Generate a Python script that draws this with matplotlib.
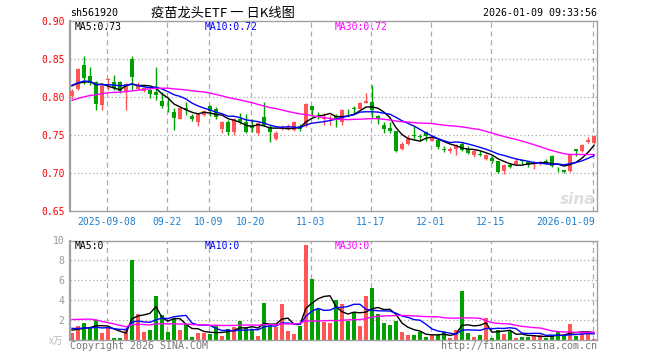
import numpy as np
import pandas as pd
import matplotlib
matplotlib.use('Agg')
import matplotlib.pyplot as plt

plt.rcParams['font.family'] = ['DejaVu Sans Mono', 'Noto Sans CJK SC']

code = 'sh561920'
title = '疫苗龙头ETF 一 日K线图'
stamp = '2026-01-09 09:33:56'

# daily candles 2025-08-29 .. 2026-01-09
opens = [0.8009, 0.8110, 0.8425, 0.8280, 0.8193, 0.7890, 0.8225, 0.8202, 0.8193, 0.8066,
         0.8504, 0.8100, 0.8075, 0.8088, 0.8070, 0.7952, 0.7882, 0.7807, 0.7715, 0.7860,
         0.7754, 0.7675, 0.7768, 0.7882, 0.7846, 0.7583, 0.7675, 0.7539, 0.7715, 0.7675,
         0.7632, 0.7522, 0.7732, 0.7610, 0.7452, 0.7575, 0.7592, 0.7561, 0.7623, 0.7614,
         0.7886, 0.7768, 0.7715, 0.7680, 0.7754, 0.7671, 0.7803, 0.7846, 0.7846, 0.7925,
         0.7934, 0.7746, 0.7636, 0.7597, 0.7548, 0.7320, 0.7386, 0.7496, 0.7487, 0.7540,
         0.7425, 0.7439, 0.7316, 0.7285, 0.7320, 0.7382, 0.7316, 0.7241, 0.7241, 0.7184,
         0.7197, 0.7153, 0.7031, 0.7110, 0.7118, 0.7162, 0.7145, 0.7118, 0.7132, 0.7149,
         0.7224, 0.7066, 0.7044, 0.7022, 0.7320, 0.7294, 0.7404, 0.7395]
highs = [0.8100, 0.8385, 0.8544, 0.8390, 0.8206, 0.8160, 0.8250, 0.8290, 0.8206, 0.8180,
         0.8544, 0.8202, 0.8127, 0.8100, 0.8390, 0.8066, 0.7987, 0.7855, 0.7870, 0.7934,
         0.7780, 0.7794, 0.7829, 0.7895, 0.7873, 0.7689, 0.7697, 0.7728, 0.7794, 0.7772,
         0.7715, 0.7671, 0.7934, 0.7636, 0.7548, 0.7636, 0.7649, 0.7689, 0.7649, 0.7917,
         0.7886, 0.7803, 0.7790, 0.7760, 0.7776, 0.7846, 0.7842, 0.7886, 0.7930, 0.8053,
         0.8162, 0.7768, 0.7671, 0.7671, 0.7557, 0.7408, 0.7504, 0.7614, 0.7518, 0.7548,
         0.7482, 0.7452, 0.7351, 0.7338, 0.7382, 0.7408, 0.7351, 0.7320, 0.7294, 0.7250,
         0.7219, 0.7158, 0.7118, 0.7132, 0.7197, 0.7171, 0.7162, 0.7154, 0.7162, 0.7184,
         0.7237, 0.7075, 0.7044, 0.7250, 0.7320, 0.7386, 0.7469, 0.7504]
lows = [0.7980, 0.8096, 0.8170, 0.8160, 0.7833, 0.7833, 0.8096, 0.8096, 0.8050, 0.7825,
        0.8088, 0.8100, 0.8070, 0.7987, 0.7965, 0.7855, 0.7798, 0.7561, 0.7715, 0.7759,
        0.7689, 0.7614, 0.7755, 0.7746, 0.7715, 0.7526, 0.7504, 0.7496, 0.7645, 0.7526,
        0.7539, 0.7504, 0.7614, 0.7404, 0.7439, 0.7566, 0.7566, 0.7557, 0.7557, 0.7601,
        0.7754, 0.7715, 0.7636, 0.7636, 0.7601, 0.7636, 0.7746, 0.7776, 0.7833, 0.7917,
        0.7724, 0.7645, 0.7526, 0.7526, 0.7272, 0.7307, 0.7373, 0.7452, 0.7417, 0.7417,
        0.7417, 0.7320, 0.7276, 0.7263, 0.7241, 0.7294, 0.7254, 0.7206, 0.7224, 0.7171,
        0.7132, 0.7000, 0.6991, 0.7066, 0.7101, 0.7118, 0.7083, 0.7057, 0.7110, 0.7118,
        0.7083, 0.7013, 0.6996, 0.7009, 0.7219, 0.7276, 0.7395, 0.7382]
closes = [0.8083, 0.8373, 0.8250, 0.8184, 0.7912, 0.8140, 0.8233, 0.8118, 0.8075, 0.8171,
          0.8259, 0.8140, 0.8118, 0.8044, 0.8022, 0.7877, 0.7877, 0.7719, 0.7855, 0.7829,
          0.7715, 0.7772, 0.7820, 0.7811, 0.7732, 0.7675, 0.7539, 0.7715, 0.7675, 0.7539,
          0.7596, 0.7658, 0.7632, 0.7535, 0.7531, 0.7601, 0.7610, 0.7671, 0.7575, 0.7908,
          0.7833, 0.7759, 0.7732, 0.7689, 0.7702, 0.7829, 0.7798, 0.7842, 0.7921, 0.7952,
          0.7833, 0.7715, 0.7583, 0.7557, 0.7294, 0.7382, 0.7452, 0.7491, 0.7478, 0.7482,
          0.7461, 0.7338, 0.7307, 0.7320, 0.7373, 0.7307, 0.7263, 0.7285, 0.7237, 0.7241,
          0.7162, 0.7013, 0.7110, 0.7079, 0.7153, 0.7158, 0.7101, 0.7132, 0.7145, 0.7145,
          0.7097, 0.7061, 0.7009, 0.7241, 0.7294, 0.7373, 0.7434, 0.7482]
# volume, 万
volumes = [0.67, 1.4, 1.73, 1.33, 2.0, 0.73, 1.23, 0.23, 0.23, 1.0,
           8.0, 2.6, 0.8, 1.0, 4.4, 2.47, 0.8, 2.07, 1.0, 1.6,
           0.3, 0.7, 0.7, 0.6, 1.4, 0.4, 1.13, 1.3, 1.9, 1.3,
           1.07, 0.4, 3.7, 1.5, 1.3, 3.6, 0.9, 0.6, 1.4, 9.5,
           6.1, 3.1, 1.8, 1.73, 4.0, 3.6, 1.93, 2.73, 1.4, 4.4,
           5.2, 2.6, 1.7, 1.5, 1.9, 0.8, 0.5, 0.5, 0.8, 0.3,
           0.5, 0.5, 0.8, 0.2, 1.0, 4.9, 0.7, 0.3, 0.5, 2.2,
           0.2, 1.0, 0.6, 0.9, 0.2, 0.3, 0.3, 0.5, 0.5, 0.2,
           0.4, 0.8, 0.5, 1.6, 0.4, 0.8, 0.8, 0.1]

# sessions before the first visible bar, only used to seed the moving averages
prev_closes = [0.760, 0.762, 0.765, 0.766, 0.767,
               0.790, 0.795, 0.798, 0.797, 0.798,
               0.785, 0.782, 0.780, 0.784, 0.783, 0.786,
               0.800, 0.803, 0.805, 0.806, 0.804, 0.802,
               0.825, 0.828, 0.822, 0.820, 0.818, 0.815, 0.812]
prev_volumes = [1.2, 1.0, 1.3,
                4.2, 5.5, 4.8, 3.9, 5.0, 4.8,
                1.5, 1.8, 1.6, 2.0, 1.4, 1.7, 1.9, 1.6, 1.5, 1.8, 1.7,
                1.5, 1.2, 1.3, 1.4, 1.3, 1.0, 1.2, 1.0, 1.1]

date_pos = [6, 16, 23, 30, 40, 50, 60, 70, 87]
date_labels = ['2025-09-08', '09-22', '10-09', '10-20', '11-03', '11-17', '12-01', '12-15', '2026-01-09']
price_ticks = [0.65, 0.70, 0.75, 0.80, 0.85, 0.90]
vol_ticks = [2, 4, 6, 8, 10]
ma_names = ['MA5', 'MA10', 'MA30']
ma_days = [5, 10, 30]
ma_colors = ['black', '#0000ff', '#ff00ff']
price_ma_text = ['0.73', '0.72', '0.72']
vol_ma_text = ['0', '0', '0']

RED = '#ff5555'
GREEN = '#00a000'
GRID = '#aaaaaa'
W, H = 660, 360


def box(l, t, r, b):
    return [l / W, 1 - b / H, (r - l) / W, (b - t) / H]


def fig_xy(x, y):
    return x / W, 1 - y / H


o = np.array(opens)
h = np.array(highs)
l = np.array(lows)
c = np.array(closes)
v = np.array(volumes)
n = len(c)
x = np.arange(n)
cols = np.where(c >= o, RED, GREEN)

fig = plt.figure(figsize=(6.6, 3.6), dpi=100)
ax = fig.add_axes(box(70, 21, 597, 211))
axv = fig.add_axes(box(70, 240.5, 597, 340))

for a in (ax, axv):
    a.set_xlim(-0.33, n - 0.5)
    for s in a.spines.values():
        s.set_color('#a0a0a0')
        s.set_linewidth(1)
    a.spines['left'].set_linewidth(1.6)
    a.set_xticks([])
    a.tick_params(axis='y', length=0, pad=4, labelsize=7)
    for p in date_pos:
        a.axvline(p - 0.22, color=GRID, lw=0.9, dashes=(4, 3), zorder=0)

# price panel
ax.vlines(x, l, h, colors=cols, lw=1, zorder=2)
ax.bar(x, np.maximum(np.abs(c - o), 0.0007), bottom=np.minimum(o, c), width=0.75,
       color=cols, lw=0, zorder=3)
s = pd.Series(prev_closes + closes)
for d, col in zip(ma_days, ma_colors):
    ma = s.rolling(d).mean().iloc[len(prev_closes):].values
    ax.plot(x, ma, color=col, lw=1, zorder=4)
ax.set_ylim(0.65, 0.90)
ax.set_yticks(price_ticks)
ax.set_yticklabels(['%.2f' % t for t in price_ticks], color='#ff0000')
for t in price_ticks[1:-1]:
    ax.axhline(t, color=GRID, lw=0.9, dashes=(1, 2), zorder=0)
for p, lab in zip(date_pos, date_labels):
    ha = 'right' if p == date_pos[-1] else 'center'
    xp = p + 0.1 if ha == 'right' else p - 0.2
    ax.text(xp, -0.058, lab, transform=ax.get_xaxis_transform(), ha=ha, va='center',
            fontsize=7, color='#1a7fd0')

# volume panel
axv.bar(x, v, width=0.8, color=cols, lw=0, zorder=2)
sv = pd.Series(prev_volumes + volumes)
for d, col in zip(ma_days, ma_colors):
    ma = sv.rolling(d).mean().iloc[len(prev_volumes):].values
    axv.plot(x, ma, color=col, lw=1, zorder=4)
axv.set_ylim(0, 10)
axv.set_yticks(vol_ticks)
axv.set_yticklabels([str(t) for t in vol_ticks], color='#999999')
for t in vol_ticks[:-1]:
    axv.axhline(t, color=GRID, lw=0.9, dashes=(1, 2), zorder=0)

# texts
fig.text(*fig_xy(70, 13), code, ha='left', va='center', fontsize=7.2)
fig.text(*fig_xy(223, 13), title, ha='center', va='center', fontsize=9.5,
         family=['Noto Sans CJK SC', 'DejaVu Sans'])
fig.text(*fig_xy(597, 13), stamp, ha='right', va='center', fontsize=7.2)
for xx, name, val, col in zip([75, 205, 335], ma_names, price_ma_text, ma_colors):
    fig.text(*fig_xy(xx, 27), name + ':' + val, ha='left', va='center', fontsize=7, color=col)
for xx, name, val, col in zip([75, 205, 335], ma_names, vol_ma_text, ma_colors):
    fig.text(*fig_xy(xx, 246), name + ':' + val, ha='left', va='center', fontsize=7, color=col)
fig.text(*fig_xy(56, 341), 'x万', ha='center', va='center', fontsize=7, color='#bbbbbb',
         family=['Noto Sans CJK SC', 'DejaVu Sans'])
fig.text(*fig_xy(70, 346), 'Copyright 2026 SINA.COM', ha='left', va='center', fontsize=7.2,
         color='#777777')
fig.text(*fig_xy(597, 346), 'http://finance.sina.com.cn', ha='right', va='center',
         fontsize=7.2, color='#777777')
fig.text(*fig_xy(578, 199), 'sina', ha='center', va='center', fontsize=11, color='#dddddd',
         style='italic', weight='bold', family='DejaVu Sans')

fig.savefig('out.png', dpi=100)
